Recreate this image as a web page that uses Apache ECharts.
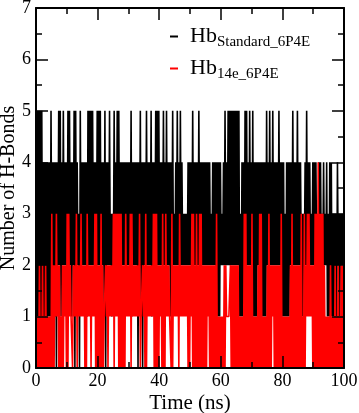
<!DOCTYPE html>
<html><head><meta charset="utf-8">
<script src="https://cdn.jsdelivr.net/npm/echarts@6/dist/echarts.min.js"></script>
<style>html,body{margin:0;padding:0;background:#fff}#c{width:359px;height:413px}</style>
</head><body><div id="c"></div>
<script>
// sampling step of the trajectory (ns)
const dt = 0.25;
const xTicks = [0, 20, 40, 60, 80, 100];
const yTicks = [0, 1, 2, 3, 4, 5, 6, 7];
const seriesNames = ['Standard_6P4E', '14e_6P4E'];
// Number of H-bonds, Hb Standard_6P4E (black), one row = 5 ns
const hbStandard = [
0,1,5,1,5,1,5,1,5,1,4,1,4,1,4,1,4,1,4,1,
5,2,4,1,4,1,4,0,4,2,5,2,5,1,4,2,5,2,4,2,
4,2,5,2,5,2,4,1,4,2,5,0,5,2,4,2,3,0,5,2,
4,2,4,2,4,2,4,1,5,2,5,2,5,2,5,2,4,2,4,2,
5,2,5,2,5,2,4,2,4,1,5,0,4,2,4,2,5,2,3,1,
3,2,5,2,4,2,5,2,5,2,4,2,4,2,4,2,4,2,4,2,
4,2,4,2,5,1,4,2,4,2,4,2,4,0,4,2,5,1,4,0,
4,2,4,2,5,2,4,2,4,2,5,1,4,2,4,2,5,2,5,2,
5,2,4,2,4,2,5,2,4,2,5,2,4,2,4,1,4,2,5,2,
3,2,4,2,5,2,4,2,5,2,4,2,3,2,3,2,3,2,4,2,
4,2,4,2,5,2,4,2,4,2,4,2,5,2,4,2,4,2,4,2,
4,2,4,2,4,2,4,2,3,2,4,2,4,2,4,1,4,1,4,1,
4,2,3,2,4,2,5,2,4,2,5,2,5,2,5,2,5,2,5,2,
5,2,5,2,5,1,3,1,4,1,4,1,5,2,5,2,4,2,5,2,
4,1,5,1,4,1,4,1,4,2,4,2,4,2,4,1,4,1,4,1,
5,2,4,2,5,2,4,2,5,2,4,2,4,2,4,2,5,2,4,2,
4,1,4,1,3,1,4,1,4,1,4,2,4,2,5,2,4,2,4,2,
5,2,4,2,4,2,3,1,3,2,4,2,5,2,4,2,4,2,3,2,
4,2,4,2,4,2,3,2,4,2,4,2,3,2,4,2,3,2,4,1,
3,1,4,1,4,1,3,1,3,1,3,1,4,2,3,1,3,2,3,2,
3];
// Number of H-bonds, Hb 14e_6P4E (red), one row = 5 ns
const hb14e = [
0,1,0,1,0,2,0,1,0,2,0,1,0,2,0,1,0,1,0,1,
0,3,0,2,0,2,1,3,1,2,0,2,0,1,0,2,0,2,1,2,
0,3,0,3,1,2,1,1,0,2,1,2,1,3,0,2,1,2,1,3,
1,2,1,2,0,2,0,3,1,2,1,2,0,2,1,2,1,3,0,3,
0,2,0,2,0,3,0,2,0,1,1,2,1,2,0,2,1,2,1,2,
1,3,0,3,1,3,1,3,0,3,0,3,0,2,0,2,0,3,1,2,
1,2,1,3,0,3,1,2,1,2,1,2,1,2,1,3,0,1,1,2,
1,2,0,3,0,2,1,2,1,2,1,2,1,3,0,3,0,3,0,2,
0,2,1,2,0,3,0,2,0,3,1,2,1,2,1,1,0,3,0,2,
1,2,1,2,1,2,0,3,1,2,1,2,1,2,1,2,1,2,0,2,
0,2,1,3,0,3,0,2,0,3,0,2,0,3,0,3,0,2,0,2,
0,2,0,2,1,2,0,2,0,2,0,2,0,2,0,3,0,1,0,1,
0,1,0,1,0,2,0,2,1,1,1,1,1,2,0,2,0,2,0,2,
0,2,0,2,0,1,0,1,0,1,0,3,0,3,0,2,0,2,0,2,
0,3,0,1,0,1,0,1,0,2,0,3,0,3,0,1,0,1,0,1,
0,2,0,3,0,2,0,2,1,2,0,2,0,2,0,2,0,2,0,3,
0,1,0,1,0,1,0,1,0,1,0,2,0,3,0,2,0,2,0,2,
0,2,0,2,0,3,0,1,0,3,0,2,1,3,1,3,1,2,1,2,
0,2,0,3,0,3,0,4,0,3,0,3,0,3,0,2,0,1,0,1,
0,1,0,2,0,1,0,1,0,2,0,1,0,2,0,1,0,2,0,2,
0];

const pairs = arr => arr.map((v, i) => [i * dt, v]);
const FONT = 'Liberation Serif';
const chart = echarts.init(document.getElementById('c'), null, {renderer: 'canvas'});
const tickX = {show: true, inside: true, length: 12, lineStyle: {color: '#000', width: 1.5}};
const minorX = {show: true, length: 6, splitNumber: 2, lineStyle: {color: '#000', width: 1.5}};
const axisLine = {show: true, onZero: false, lineStyle: {color: '#000', width: 2}};
const common = {
  min: 0, splitLine: {show: false}, axisLine: axisLine, axisTick: tickX, minorTick: minorX, z: 10
};
chart.setOption({
  animation: false,
  backgroundColor: '#fff',
  grid: {left: 36, right: 15, top: 8, bottom: 45, containLabel: false, outerBoundsMode: 'none'},
  legend: {
    orient: 'vertical', left: 170, top: 23, padding: 0, itemGap: 5,
    itemWidth: 8, itemHeight: 2, icon: 'rect',
    data: [{name: seriesNames[0]}, {name: seriesNames[1]}],
    formatter: n => '{a|Hb}{b|' + n + '}',
    textStyle: {
      fontFamily: FONT, color: '#000',
      rich: {
        a: {fontFamily: FONT, fontSize: 22, color: '#000', lineHeight: 24, padding: [0, 0, 0, 7]},
        b: {fontFamily: FONT, fontSize: 15, color: '#000', padding: [12, 0, 0, 0], lineHeight: 18}
      }
    }
  },
  xAxis: [
    Object.assign({}, common, {
      type: 'value', max: 100, interval: 20, position: 'bottom',
      axisLabel: {fontFamily: FONT, fontSize: 18, color: '#000', margin: 4,
        formatter: v => xTicks.indexOf(v) >= 0 ? String(v) : ''},
      name: 'Time (ns)', nameLocation: 'middle', nameGap: 25, nameMoveOverlap: false,
      nameTextStyle: {fontFamily: FONT, fontSize: 21, color: '#000'}
    }),
    Object.assign({}, common, {
      type: 'value', max: 100, interval: 20, position: 'top', axisLabel: {show: false}
    })
  ],
  yAxis: [
    Object.assign({}, common, {
      type: 'value', max: 7, interval: 1, position: 'left',
      axisLabel: {fontFamily: FONT, fontSize: 18, color: '#000', margin: 5,
        formatter: v => yTicks.indexOf(v) >= 0 ? String(v) : ''},
      name: 'Number of H-Bonds', nameLocation: 'middle', nameGap: 17, nameMoveOverlap: false,
      nameTextStyle: {fontFamily: FONT, fontSize: 20, color: '#000'}
    }),
    Object.assign({}, common, {
      type: 'value', max: 7, interval: 1, position: 'right', axisLabel: {show: false}
    })
  ],
  series: [
    {name: seriesNames[0], type: 'line', step: 'middle', data: pairs(hbStandard), showSymbol: false, symbol: 'none',
     color: '#000', lineStyle: {color: '#000', width: 1.6}, sampling: false, z: 2},
    {name: seriesNames[1], type: 'line', step: 'middle', data: pairs(hb14e), showSymbol: false, symbol: 'none',
     color: '#ff0000', lineStyle: {color: '#ff0000', width: 1.6}, sampling: false, z: 3}
  ]
});
</script></body></html>
